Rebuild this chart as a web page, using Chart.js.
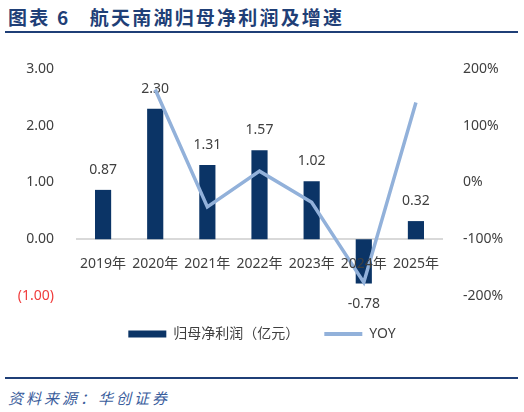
<!DOCTYPE html>
<html>
<head>
<meta charset="utf-8">
<script src="https://cdn.jsdelivr.net/npm/chart.js@4.4.0/dist/chart.umd.min.js"></script>
<style>
  html, body { margin: 0; padding: 0; background: #fff; }
  body { width: 524px; height: 412px; position: relative; overflow: hidden; font-family: "Noto Sans CJK SC", "Noto Sans", sans-serif; }
  #titulo { position: absolute; left: 8px; top: 3px; font-size: 19px; font-weight: 700; color: #1f3f77; letter-spacing: 2.2px; white-space: pre; }
  .linha { position: absolute; left: 5px; width: 513px; height: 2px; background: #1f3f77; }
  #fonte { position: absolute; left: 8px; top: 387px; font-size: 15px; font-style: italic; color: #3a5d9c; letter-spacing: 3px; }
  #box { position: absolute; left: 0; top: 40px; width: 524px; height: 336px; }
</style>
</head>
<body>
<div id="titulo">图表 6   航天南湖归母净利润及增速</div>
<div class="linha" style="top:31px"></div>
<div id="box"><canvas id="graf"></canvas></div>
<div class="linha" style="top:377px"></div>
<div id="fonte">资料来源：华创证券</div>

<script>
// dados
const anos = ['2019年', '2020年', '2021年', '2022年', '2023年', '2024年', '2025年'];
const lucro = [0.87, 2.30, 1.31, 1.57, 1.02, -0.78, 0.32];
const yoy = [null, 164, -43, 20, -35, -176, 141];
const ticksEsq = [-1, 0, 1, 2, 3];
const ticksDir = [-200, -100, 0, 100, 200];

const COR_BARRA = '#0b3466';
const COR_LINHA = '#92b1da';
const COR_TEXTO = '#404040';
const FONTE = '"Noto Sans", "Noto Sans CJK SC", sans-serif';

// rotulos em cima/baixo das barras
const rotulos = {
    id: 'rotulos',
    afterDatasetDraw(chart, args) {
        if (args.index !== 0) return;
        const ctx = chart.ctx;
        ctx.save();
        ctx.font = '14px ' + FONTE;
        ctx.fillStyle = COR_TEXTO;
        ctx.textAlign = 'center';
        ctx.textBaseline = 'middle';
        args.meta.data.forEach((el, i) => {
            const v = lucro[i];
            const y = v >= 0 ? el.y - 20 : el.y + 21;
            ctx.fillText(v.toFixed(2), el.x, y);
        });
        ctx.restore();
    }
};

new Chart(document.getElementById('graf'), {
    data: {
        labels: anos,
        datasets: [
            {
                type: 'bar',
                label: '归母净利润（亿元）',
                data: lucro,
                backgroundColor: COR_BARRA,
                categoryPercentage: 1,
                barPercentage: 0.31,
                yAxisID: 'y',
                order: 1
            },
            {
                type: 'line',
                label: 'YOY',
                data: yoy,
                borderColor: COR_LINHA,
                backgroundColor: COR_LINHA,
                borderWidth: 3.5,
                pointRadius: 0,
                tension: 0,
                yAxisID: 'y2',
                order: 0
            }
        ]
    },
    options: {
        responsive: true,
        maintainAspectRatio: false,
        animation: false,
        layout: { padding: { top: 29, bottom: 25, left: 0, right: 0 } },
        plugins: {
            tooltip: { enabled: false },
            legend: {
                position: 'bottom',
                // titulo vazio so para dar espaco acima da legenda
                title: { display: true, text: ' ', font: { size: 2 }, padding: { top: 0, bottom: 3.6 } },
                labels: {
                    usePointStyle: true,
                    pointStyleWidth: 38,
                    boxHeight: 7,
                    padding: 25,
                    color: COR_TEXTO,
                    font: { size: 14, family: FONTE },
                    generateLabels: (chart) => chart.data.datasets.map((ds, i) => ({
                        text: ds.label,
                        datasetIndex: i,
                        fillStyle: ds.type === 'bar' ? COR_BARRA : COR_LINHA,
                        strokeStyle: ds.type === 'bar' ? COR_BARRA : COR_LINHA,
                        lineWidth: ds.type === 'bar' ? 0 : 4,
                        pointStyle: ds.type === 'bar' ? 'rect' : 'line',
                        fontColor: COR_TEXTO
                    }))
                }
            }
        },
        scales: {
            x: {
                type: 'category',
                position: { y: 0 },
                grid: { display: false },
                border: { display: true, color: '#d9d9d9', width: 2 },
                ticks: { z: 1, color: COR_TEXTO, font: { size: 14, family: FONTE }, padding: 8, maxRotation: 0 }
            },
            y: {
                position: 'left',
                min: -1,
                max: 3,
                grid: { display: false },
                border: { display: false },
                afterBuildTicks: (s) => { s.ticks = ticksEsq.map(v => ({ value: v })); },
                afterFit: (s) => { s.width = 77; },
                ticks: {
                    padding: 15,
                    font: { size: 14, family: FONTE },
                    color: (c) => c.tick && c.tick.value < 0 ? '#f03c3c' : COR_TEXTO,
                    callback: (v) => v < 0 ? '(' + Math.abs(v).toFixed(2) + ')' : v.toFixed(2)
                }
            },
            y2: {
                position: 'right',
                min: -200,
                max: 200,
                grid: { display: false },
                border: { display: false },
                afterBuildTicks: (s) => { s.ticks = ticksDir.map(v => ({ value: v })); },
                afterFit: (s) => { s.width = 82; },
                ticks: {
                    padding: 13,
                    font: { size: 14, family: FONTE },
                    color: COR_TEXTO,
                    callback: (v) => v + '%'
                }
            }
        }
    },
    plugins: [rotulos]
});
</script>
</body>
</html>
